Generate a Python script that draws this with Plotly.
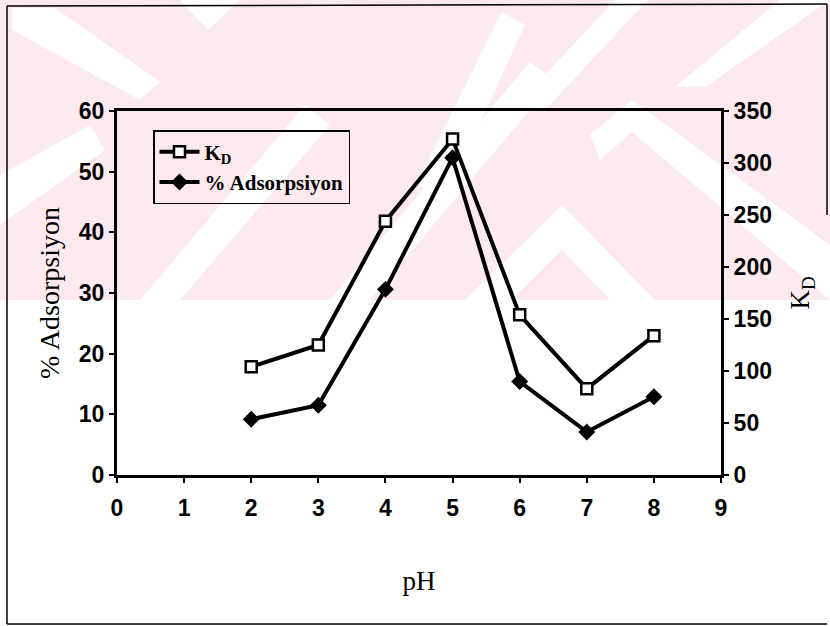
import plotly.graph_objects as go

# ---- data ----
ph = [2, 3, 4, 5, 6, 7, 8]
kd = [104, 125, 244, 323, 154, 83, 134]
adsorpsiyon = [9.2, 11.5, 30.6, 52.3, 15.4, 7.1, 12.9]
x_ticks = [0, 1, 2, 3, 4, 5, 6, 7, 8, 9]
left_ticks = [0, 10, 20, 30, 40, 50, 60]
right_ticks = [0, 50, 100, 150, 200, 250, 300, 350]

W, H = 830, 626
L, R, T, B = 117, 721, 111, 475  # plot area in pixels


def px(x, y):
    return (x - L) / (R - L), (B - y) / (B - T)


def poly(points):
    s = ""
    for i, (x, y) in enumerate(points):
        a, b = px(x, y)
        s += ("M" if i == 0 else "L") + f"{a:.4f},{b:.4f} "
    return s + "Z"


PINK = "rgb(253,234,238)"
shapes = []
# watermark background band
shapes.append(dict(type="path", xref="paper", yref="paper", layer="below",
                   path=poly([(0, 0), (830, 0), (830, 300), (0, 300)]),
                   fillcolor=PINK, line=dict(width=0)))
white_polys = [
    [(12, 8), (55, 8), (160, 82), (140, 100), (12, 30)],
    [(180, 0), (240, 0), (208, 30)],
    [(0, 175), (0, 225), (105, 150), (90, 125)],
    [(140, 300), (180, 300), (330, 125), (305, 105)],
    [(330, 300), (370, 300), (555, 80), (530, 62)],
    [(415, 187), (450, 187), (525, 25), (502, 12)],
    [(512, 110), (545, 110), (648, 0), (615, 0)],
    [(675, 87), (705, 87), (830, 0), (780, 0)],
    [(600, 160), (632, 132), (830, 300), (830, 245), (632, 100), (590, 135)],
    [(465, 300), (562, 205), (655, 300), (610, 300), (562, 250), (512, 300)],
]
for p in white_polys:
    shapes.append(dict(type="path", xref="paper", yref="paper", layer="below",
                       path=poly(p), fillcolor="white", line=dict(width=0)))

# outer frame lines
frame = [((7, 6), (827, 4)), ((7, 6), (7, 624)), ((7, 624), (827, 624)), ((827, 4), (827, 215))]
for (x0, y0), (x1, y1) in frame:
    a0, b0 = px(x0, y0)
    a1, b1 = px(x1, y1)
    shapes.append(dict(type="line", xref="paper", yref="paper", x0=a0, y0=b0, x1=a1, y1=b1,
                       line=dict(color="black", width=1.5)))

fig = go.Figure()
fig.add_trace(go.Scatter(
    x=ph, y=kd, name="<b>K<sub>D</sub></b>", yaxis="y2", mode="lines+markers",
    line=dict(color="black", width=4),
    marker=dict(symbol="square", size=11, color="white", line=dict(color="black", width=2.5)),
))
fig.add_trace(go.Scatter(
    x=ph, y=adsorpsiyon, name="<b>% Adsorpsiyon</b>", yaxis="y", mode="lines+markers",
    line=dict(color="black", width=4),
    marker=dict(symbol="diamond", size=13, color="black"),
))

tickfont = dict(family="Liberation Sans, Arial, sans-serif", size=23, color="black")
serif = "Liberation Serif, Times New Roman, serif"

fig.update_layout(
    width=W, height=H,
    margin=dict(l=L, r=W - R, t=T, b=H - B),
    paper_bgcolor="white", plot_bgcolor="rgba(0,0,0,0)",
    showlegend=True,
    legend=dict(x=px(153, 0)[0], y=px(0, 130)[1], xanchor="left", yanchor="top",
                bordercolor="black", borderwidth=1.5, bgcolor="rgba(0,0,0,0)",
                font=dict(family=serif, size=21, color="black"),
                traceorder="normal", itemwidth=40, tracegroupgap=12),
    xaxis=dict(range=[0, 9], tickvals=x_ticks, ticktext=[f"<b>{v}</b>" for v in x_ticks],
               showgrid=False, zeroline=False, showline=True, linecolor="black", linewidth=3,
               mirror=True, ticks="outside", ticklen=5, tickwidth=1.5, tickcolor="black",
               tickfont=tickfont, ticklabelstandoff=5,
               title=dict(text="pH", font=dict(family=serif, size=27, color="black"), standoff=52)),
    yaxis=dict(range=[0, 60], tickvals=left_ticks, ticktext=[f"<b>{v}</b>" for v in left_ticks],
               showgrid=False, zeroline=False, showline=True, linecolor="black", linewidth=3,
               ticks="outside", ticklen=5, tickwidth=1.5, tickcolor="black",
               tickfont=tickfont,
               title=dict(text="% Adsorpsiyon", font=dict(family=serif, size=28, color="black"),
                          standoff=12)),
    yaxis2=dict(range=[0, 350], tickvals=right_ticks, ticktext=[f"<b>{v}</b>" for v in right_ticks],
                overlaying="y", side="right", anchor="x",
                showgrid=False, zeroline=False, showline=True, linecolor="black", linewidth=3,
                ticks="outside", ticklen=5, tickwidth=1.5, tickcolor="black",
                tickfont=tickfont,
                title=dict(text="K<sub>D</sub>", font=dict(family=serif, size=27, color="black"),
                           standoff=20)),
    shapes=shapes,
)

fig.write_html("out.html")
